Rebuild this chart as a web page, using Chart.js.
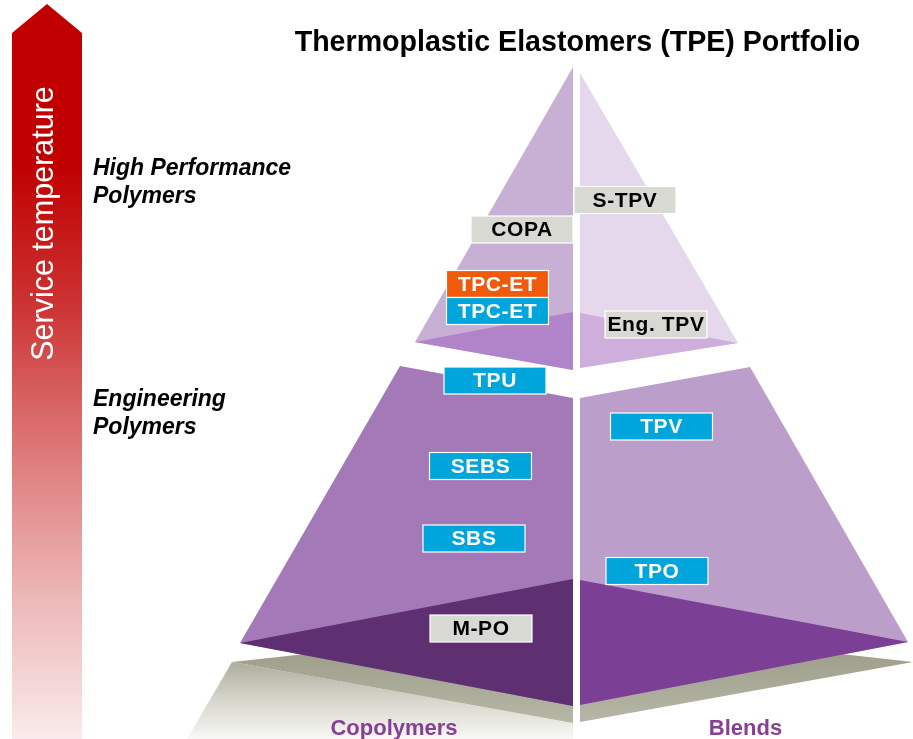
<!DOCTYPE html>
<html>
<head>
<meta charset="utf-8">
<script src="https://cdn.jsdelivr.net/npm/chart.js@4.4.0/dist/chart.umd.min.js"></script>
<style>
  html, body { margin: 0; padding: 0; background: #fff; }
  #wrap { width: 913px; height: 739px; }
</style>
</head>
<body>
<div id="wrap"><canvas id="tpe" width="913" height="739"></canvas></div>
<script>
// shapes, in picture units (x right, y down), listed back to front
const arrowShape      = [[12,739],[12,33],[47,4],[82,33],[82,739]];
const floorFrontLeft  = [[232,662],[573,723],[573,739],[187,739]];
const floorStripLeft  = [[232,662],[573,625],[573,723]];
const floorStripRight = [[580,625],[913,662],[580,722]];
const topLeftFace     = [[573,67],[415,342],[573,370]];
const topLeftBand     = [[415,342],[573,312],[573,370]];
const topRightFace    = [[580,73],[738,343],[580,368]];
const topRightBand    = [[580,313],[738,343],[580,368]];
const lowLeftFace     = [[400,366],[240,643],[573,706],[573,398]];
const lowLeftDark     = [[240,643],[573,579],[573,706]];
const lowRightFace    = [[580,398],[750,367],[908,642],[580,705]];
const lowRightDark    = [[580,580],[908,642],[580,705]];

// material labels
const labelNames = ['S-TPV','COPA','TPC-ET','TPC-ET','Eng. TPV','TPU','TPV','SEBS','SBS','TPO','M-PO'];
const labelX     = [625, 522, 497.5, 497.5, 656, 495, 661.5, 480.5, 474, 657, 481];
const labelY     = [200, 229.5, 284, 311, 324.5, 380.5, 426.5, 466, 538.5, 571, 628.5];
const labelGroup = ['other','other','hot','std','other','std','std','std','std','std','other'];

// texts
const titleText  = 'Thermoplastic Elastomers (TPE) Portfolio';
const arrowText  = 'Service temperature';
const levelNames = [['High Performance','Polymers'], ['Engineering','Polymers']];
const levelY     = [175, 406];
const baseNames  = ['Copolymers', 'Blends'];
const baseX      = [394, 745.5];

const FONT = "'Liberation Sans', Arial, sans-serif";

function vGrad(chart, y0, y1, stops) {
  const ys = chart.scales.y;
  const g = chart.ctx.createLinearGradient(0, ys.getPixelForValue(y0), 0, ys.getPixelForValue(y1));
  stops.forEach(s => g.addColorStop(s[0], s[1]));
  return g;
}

function shape(points, color) {
  return {
    data: points.map(p => ({x: p[0], y: p[1]})),
    showLine: true,
    fill: 'shape',
    backgroundColor: color,
    borderColor: 'rgba(0,0,0,0)',
    borderWidth: 0,
    pointRadius: 0,
    pointHoverRadius: 0,
    tension: 0,
    clip: false
  };
}

const stripColor = c => c.chart.chartArea ? vGrad(c.chart, 640, 723, [[0,'#9a9a86'],[1,'#b7b7a7']]) : '#aaa';

const layers = [
  shape(arrowShape, c => c.chart.chartArea ? vGrad(c.chart, 4, 739, [
    [0,'#c00000'],[0.22,'#c00000'],[0.40,'#cc3030'],[0.54,'#d86262'],
    [0.675,'#e38e8e'],[0.81,'#edb8b8'],[0.95,'#f6dddd'],[1,'#faecec']]) : '#c00000'),
  shape(floorFrontLeft, c => c.chart.chartArea ? vGrad(c.chart, 662, 739, [[0,'#adad9d'],[0.5,'#d6d6cc'],[1,'#f8f8f5']]) : '#ddd'),
  shape(floorStripLeft, stripColor),
  shape(floorStripRight, stripColor),
  shape(topLeftFace, '#c8b0d5'),
  shape(topLeftBand, '#b184c9'),
  shape(topRightFace, '#e5d8ec'),
  shape(topRightBand, '#ceafdc'),
  shape(lowLeftFace, '#a37ab7'),
  shape(lowLeftDark, '#5e3072'),
  shape(lowRightFace, '#bc9ecb'),
  shape(lowRightDark, '#7b3f95')
];
// first dataset is drawn on top in Chart.js, so flip the order
layers.forEach((d, i) => { d.order = layers.length - i; });

const boxStyle = {
  other: {fill: '#d9d9d3', text: '#000'},
  hot:   {fill: '#f05a0a', text: '#fff'},
  std:   {fill: '#00a5db', text: '#fff'}
};

const textPlugin = {
  id: 'tpeText',
  afterDatasetsDraw(chart) {
    const ctx = chart.ctx;
    const xs = chart.scales.x, ys = chart.scales.y;
    const px = v => xs.getPixelForValue(v), py = v => ys.getPixelForValue(v);
    ctx.save();

    // label boxes
    labelNames.forEach((name, i) => {
      const st = boxStyle[labelGroup[i]];
      const w = 102, h = 27;
      const x = px(labelX[i]) - w / 2, y = py(labelY[i]) - h / 2;
      ctx.fillStyle = st.fill;
      ctx.fillRect(x, y, w, h);
      ctx.strokeStyle = '#ffffff';
      ctx.lineWidth = 1.2;
      ctx.strokeRect(x, y, w, h);
      ctx.fillStyle = st.text;
      ctx.font = 'bold 21px ' + FONT;
      ctx.letterSpacing = '0.6px';
      ctx.textAlign = 'center';
      ctx.textBaseline = 'middle';
      ctx.fillText(name, px(labelX[i]), py(labelY[i]) + 1);
    });
    ctx.letterSpacing = '0px';

    // title
    ctx.fillStyle = '#000';
    ctx.font = 'bold 28.6px ' + FONT;
    ctx.textAlign = 'center';
    ctx.textBaseline = 'alphabetic';
    ctx.fillText(titleText, px(577.5), py(51));

    // level captions
    ctx.font = 'italic bold 23px ' + FONT;
    ctx.textAlign = 'left';
    levelNames.forEach((lines, i) => {
      lines.forEach((t, j) => ctx.fillText(t, px(93), py(levelY[i] + j * 28)));
    });

    // base captions
    ctx.fillStyle = '#873f95';
    ctx.font = 'bold 22px ' + FONT;
    ctx.textAlign = 'center';
    baseNames.forEach((t, i) => ctx.fillText(t, px(baseX[i]), py(735)));

    // arrow caption
    ctx.translate(px(53), py(223.5));
    ctx.rotate(-Math.PI / 2);
    ctx.fillStyle = '#ffffff';
    ctx.font = '30.5px ' + FONT;
    ctx.textAlign = 'center';
    ctx.fillText(arrowText, 0, 0);

    ctx.restore();
  }
};

new Chart(document.getElementById('tpe'), {
  type: 'scatter',
  data: { datasets: layers },
  options: {
    responsive: false,
    animation: false,
    devicePixelRatio: 1,
    layout: { padding: 0 },
    events: [],
    scales: {
      x: { type: 'linear', min: 0, max: 913, display: false },
      y: { type: 'linear', min: 0, max: 739, reverse: true, display: false }
    },
    plugins: {
      legend: { display: false },
      tooltip: { enabled: false },
      title: { display: false }
    }
  },
  plugins: [textPlugin]
});
</script>
</body>
</html>
